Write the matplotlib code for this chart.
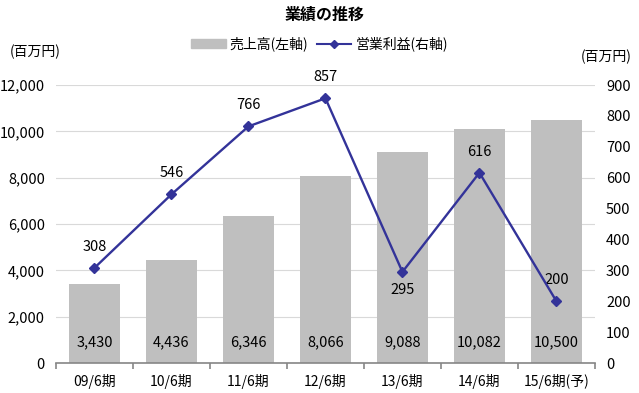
import matplotlib
matplotlib.use("Agg")
import matplotlib.pyplot as plt
from matplotlib.lines import Line2D
from matplotlib.patches import Patch

plt.rcParams['font.family'] = ['Liberation Sans Narrow', 'Noto Sans CJK JP', 'DejaVu Sans']

categories = ["09/6期", "10/6期", "11/6期", "12/6期", "13/6期", "14/6期", "15/6期(予)"]
sales = [3430, 4436, 6346, 8066, 9088, 10082, 10500]
profit = [308, 546, 766, 857, 295, 616, 200]
left_ticks = [0, 2000, 4000, 6000, 8000, 10000, 12000]
right_ticks = [0, 100, 200, 300, 400, 500, 600, 700, 800, 900]

bar_color = "#BFBFBF"
line_color = "#333399"
fs = 10.5

fig = plt.figure(figsize=(6.39, 3.93), dpi=100)
ax = fig.add_axes([0.0876, 0.0763, 0.8434, 0.7074])
x = list(range(len(categories)))
ax.bar(x, sales, width=0.66, color=bar_color, zorder=2)
ax.set_xlim(-0.5, len(categories) - 0.5)
ax.set_ylim(0, 12000)
ax.set_yticks(left_ticks)
ax.set_yticklabels([f"{v:,}" for v in left_ticks], fontsize=fs)
ax.grid(axis='y', color="#D9D9D9", linewidth=0.8, zorder=0)
ax.set_axisbelow(True)
for s in ['top', 'left', 'right']:
    ax.spines[s].set_visible(False)
ax.spines['bottom'].set_color("#868686")
ax.spines['bottom'].set_linewidth(1.2)
ax.tick_params(axis='y', length=0, pad=8)
ax.set_xticks(x)
ax.set_xticklabels(categories, fontsize=10)
ax.tick_params(axis='x', length=0, pad=8)
ax.set_xticks([i - 0.5 for i in range(len(categories) + 1)], minor=True)
ax.tick_params(axis='x', which='minor', length=4, color="#868686", width=1.2)

for xi, v in zip(x, sales):
    ax.text(xi, 900, f"{v:,}", ha='center', va='center', fontsize=fs, zorder=5)

ax2 = ax.twinx()
ax2.plot(x, profit, color=line_color, marker='D', markersize=5.5, linewidth=1.7, zorder=5)
ax2.set_ylim(0, 900)
ax2.set_yticks(right_ticks)
ax2.set_yticklabels([str(v) for v in right_ticks], fontsize=fs)
for s in ['top', 'left', 'right', 'bottom']:
    ax2.spines[s].set_visible(False)
ax2.tick_params(axis='y', length=0, pad=8)

for xi, v in zip(x, profit):
    if v == 295:
        ax2.text(xi, v - 60, str(v), ha='center', va='center', fontsize=fs)
    else:
        ax2.text(xi, v + 68, str(v), ha='center', va='center', fontsize=fs)

fig.text(0.508, 0.962, "業績の推移", ha='center', va='center', fontsize=11.5, fontweight='bold')
fig.text(0.055, 0.868, "(百万円)", ha='center', va='center', fontsize=10)
fig.text(0.948, 0.855, "(百万円)", ha='center', va='center', fontsize=10)

handles = [Patch(color=bar_color), Line2D([0], [0], color=line_color, marker='D', markersize=4, linewidth=1.5)]
fig.legend(handles, ["売上高(左軸)", "営業利益(右軸)"], loc='center', bbox_to_anchor=(0.5, 0.888),
           ncol=2, frameon=False, fontsize=10, handlelength=2.5, columnspacing=0.6, handletextpad=0.3)

fig.savefig("out.png", dpi=100)
